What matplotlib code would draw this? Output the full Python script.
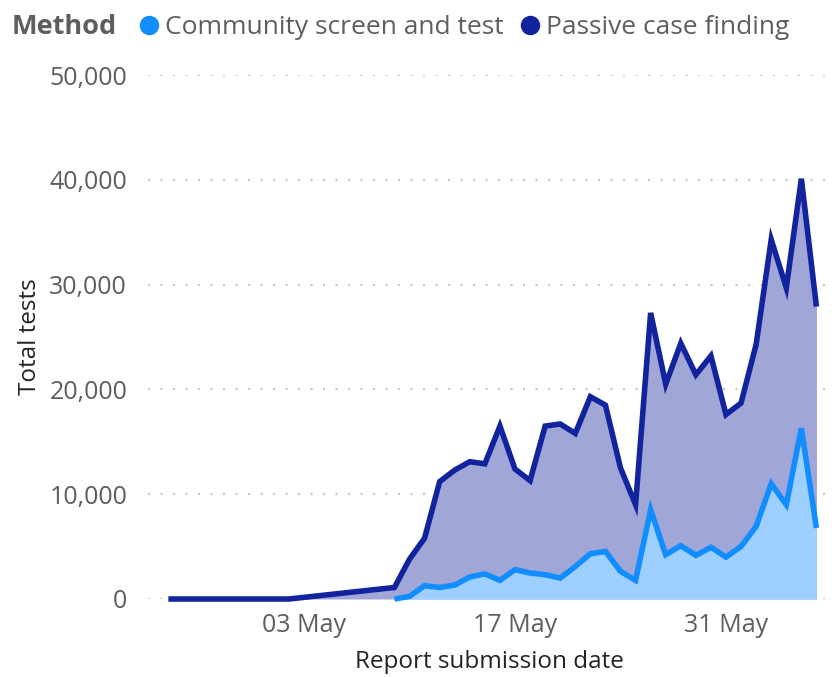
import matplotlib.pyplot as plt
import matplotlib.dates as mdates
from matplotlib.lines import Line2D
import pandas as pd

plt.rcParams["font.family"] = ["Open Sans", "DejaVu Sans"]

# passive case finding: sparse at the start, daily from 09 May
passive_dates = ["2020-04-24", "2020-05-02"] + list(
    pd.date_range("2020-05-09", "2020-06-06").strftime("%Y-%m-%d")
)
passive_tests = [
    0, 0,
    1100, 3800, 5800, 11200, 12300, 13100, 12900, 16500, 12400, 11300,
    16500, 16700, 15800, 19300, 18500, 12500, 9000, 27300, 20500, 24400,
    21400, 23200, 17600, 18700, 24300, 34300, 29700, 40100, 27900,
]

community_dates = list(pd.date_range("2020-05-09", "2020-06-06").strftime("%Y-%m-%d"))
community_tests = [
    0, 250, 1270, 1100, 1330, 2100, 2400, 1780, 2800, 2480,
    2320, 2000, 3100, 4320, 4540, 2640, 1780, 8520, 4230, 5090,
    4160, 4930, 4000, 5020, 6930, 11000, 9000, 16300, 6780,
]

y_ticks = [0, 10000, 20000, 30000, 40000, 50000]
x_ticks = ["2020-05-03", "2020-05-17", "2020-05-31"]

dark = "#12239E"
light = "#118DFF"
grey = "#605E5C"

pd_x = pd.to_datetime(passive_dates)
cm_x = pd.to_datetime(community_dates)

fig = plt.figure(figsize=(8.39, 6.77), dpi=100)
ax = fig.add_axes([148 / 839, 1 - 599 / 677, (830 - 148) / 839, (599 - 75) / 677])

ax.fill_between(pd_x, passive_tests, 0, color="#A0A6D6", lw=0, zorder=1)
ax.fill_between(cm_x, community_tests, 0, color="#9DCFFF", lw=0, zorder=2)
ax.plot(pd_x, passive_tests, color=dark, lw=4, solid_joinstyle="miter",
        solid_capstyle="butt", zorder=4, clip_on=False)
ax.plot(cm_x, community_tests, color=light, lw=4, solid_joinstyle="miter",
        solid_capstyle="butt", zorder=3, clip_on=False)

ax.set_ylim(0, 50000)
ax.set_xlim(pd.Timestamp("2020-05-03") - pd.Timedelta(days=10.35),
            pd.Timestamp("2020-05-03") + pd.Timedelta(days=34.9))

ax.set_yticks(y_ticks)
ax.set_yticklabels([f"{v:,}" for v in y_ticks])
ax.set_xticks(pd.to_datetime(x_ticks))
ax.xaxis.set_major_formatter(mdates.DateFormatter("%d %b"))
ax.tick_params(axis="both", length=0, labelsize=18, colors=grey)
ax.tick_params(axis="y", pad=15)
ax.tick_params(axis="x", pad=10)

ax.grid(axis="y", color="#C8C6C4", linestyle=(0, (1, 5)), lw=1.5)
ax.set_axisbelow(True)
for s in ax.spines.values():
    s.set_visible(False)

ax.set_ylabel("Total tests", fontsize=17.5, color="#252423", labelpad=5)
ax.set_xlabel("Report submission date", fontsize=17.5, color="#252423", labelpad=9)

fig.text(12 / 839, 1 - 27 / 677, "Method", fontsize=19.5, fontweight="bold",
         color=grey, va="center", ha="left")
handles = [
    Line2D([], [], marker="o", ls="", color=light, markersize=13),
    Line2D([], [], marker="o", ls="", color=dark, markersize=13),
]
fig.legend(handles, ["Community screen and test", "Passive case finding"],
           loc="center left", bbox_to_anchor=(136 / 839, 1 - 28 / 677),
           ncol=2, frameon=False, fontsize=19, labelcolor=grey,
           handletextpad=0.1, columnspacing=0.5, handlelength=1.0,
           borderaxespad=0, borderpad=0)

fig.savefig("out.png", dpi=100)
